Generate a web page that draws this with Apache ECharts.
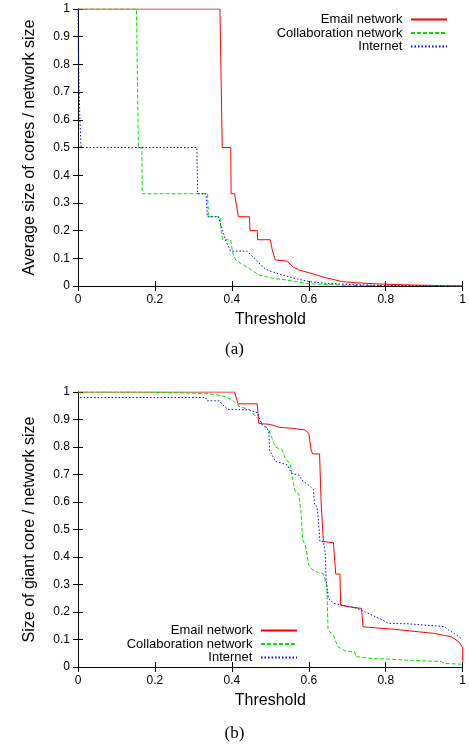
<!DOCTYPE html>
<html>
<head>
<meta charset="utf-8">
<script src="https://cdn.jsdelivr.net/npm/echarts@6/dist/echarts.min.js"></script>
<style>
  html, body { margin: 0; padding: 0; background: #fff; }
  #chart { width: 469px; height: 749px; }
</style>
</head>
<body>
<div id="chart"></div>
<script>
// (a) average size of cores / network size
const emailCores = [[0,1],[0.369,1],[0.375,0.5],[0.397,0.5],[0.398,0.333],[0.407,0.333],[0.417,0.25],[0.446,0.25],[0.447,0.2],[0.466,0.2],[0.467,0.167],[0.5,0.167],[0.505,0.13],[0.513,0.094],[0.543,0.09],[0.56,0.068],[0.574,0.058],[0.6,0.048],[0.62,0.04],[0.643,0.03],[0.66,0.025],[0.685,0.016],[0.72,0.012],[0.772,0.008],[0.858,0.004],[0.95,0.001],[1,0]];
const collabCores = [[0,1],[0.152,1],[0.157,0.5],[0.166,0.5],[0.167,0.333],[0.337,0.333],[0.339,0.25],[0.369,0.25],[0.372,0.2],[0.376,0.167],[0.397,0.167],[0.402,0.12],[0.41,0.094],[0.425,0.08],[0.444,0.064],[0.47,0.04],[0.505,0.028],[0.54,0.022],[0.574,0.014],[0.6,0.008],[0.685,0.003],[0.8,0.001],[1,0]];
const internetCores = [[0,1],[0.001,0.85],[0.003,0.7],[0.005,0.6],[0.008,0.5],[0.309,0.5],[0.311,0.333],[0.333,0.333],[0.336,0.25],[0.365,0.25],[0.376,0.2],[0.385,0.16],[0.397,0.126],[0.44,0.126],[0.462,0.094],[0.488,0.06],[0.53,0.04],[0.574,0.024],[0.6,0.016],[0.643,0.01],[0.729,0.004],[0.8,0.002],[1,0]];

// (b) size of giant core / network size
const emailGiant = [[0,1],[0.407,1],[0.416,0.957],[0.466,0.957],[0.47,0.886],[0.5,0.882],[0.522,0.872],[0.556,0.868],[0.59,0.862],[0.6,0.85],[0.606,0.789],[0.61,0.775],[0.628,0.775],[0.632,0.6],[0.636,0.5],[0.638,0.456],[0.664,0.452],[0.67,0.338],[0.681,0.338],[0.683,0.225],[0.703,0.219],[0.737,0.213],[0.741,0.146],[0.823,0.137],[0.927,0.122],[0.97,0.11],[0.99,0.092],[1,0.07],[1,0.02]];
const collabGiant = [[0,1],[0.164,1],[0.166,0.995],[0.332,0.995],[0.335,0.99],[0.358,0.99],[0.36,0.983],[0.384,0.983],[0.401,0.971],[0.419,0.947],[0.444,0.937],[0.47,0.9],[0.496,0.862],[0.513,0.8],[0.53,0.79],[0.539,0.759],[0.552,0.735],[0.556,0.698],[0.565,0.637],[0.574,0.63],[0.58,0.559],[0.584,0.462],[0.591,0.444],[0.6,0.371],[0.608,0.355],[0.625,0.343],[0.638,0.339],[0.647,0.292],[0.65,0.135],[0.664,0.116],[0.675,0.074],[0.694,0.059],[0.72,0.054],[0.722,0.038],[0.755,0.032],[0.858,0.025],[0.944,0.02],[0.953,0.013],[1,0.01]];
const internetGiant = [[0,0.99],[0.005,0.98],[0.332,0.98],[0.335,0.968],[0.367,0.968],[0.375,0.955],[0.389,0.937],[0.444,0.935],[0.466,0.925],[0.47,0.91],[0.479,0.88],[0.492,0.865],[0.496,0.856],[0.498,0.789],[0.509,0.759],[0.513,0.747],[0.53,0.741],[0.544,0.735],[0.556,0.704],[0.574,0.698],[0.582,0.68],[0.604,0.656],[0.612,0.645],[0.615,0.589],[0.621,0.585],[0.625,0.535],[0.629,0.456],[0.638,0.456],[0.643,0.413],[0.645,0.316],[0.647,0.292],[0.651,0.25],[0.664,0.232],[0.686,0.225],[0.711,0.219],[0.737,0.207],[0.763,0.189],[0.789,0.173],[0.806,0.159],[0.858,0.157],[0.953,0.147],[0.961,0.137],[0.978,0.122],[1,0.1]];

const seriesNames = ['Email network', 'Collaboration network', 'Internet'];

const font = 'Liberation Sans, Arial, Helvetica, sans-serif';
const colors = ['#ff0000', '#00e000', '#0000ff'];
const dashes = ['solid', [4, 2], [1.5, 2]];

const myChart = echarts.init(document.getElementById('chart'));

const axisLine = { show: true, lineStyle: { color: '#000', width: 1 } };
const tick = { show: true, inside: true, length: 5, lineStyle: { color: '#000' } };

const xAxisFor = (gridIndex, position, name) => ({
  type: 'value',
  gridIndex,
  position,
  min: 0,
  max: 1,
  interval: 0.2,
  axisLine,
  axisTick: tick,
  splitLine: { show: false },
  axisLabel: { show: position === 'bottom', color: '#000', fontSize: 12, fontFamily: font, margin: 8 },
  name: position === 'bottom' ? name : '',
  nameLocation: 'middle',
  nameGap: 26,
  nameTextStyle: { color: '#000', fontSize: 16, fontFamily: font },
});

const yAxisFor = (gridIndex, position, name) => ({
  type: 'value',
  gridIndex,
  position,
  min: 0,
  max: 1,
  interval: 0.1,
  axisLine,
  axisTick: tick,
  splitLine: { show: false },
  axisLabel: { show: position === 'left', color: '#000', fontSize: 12, fontFamily: font, margin: 8 },
  name: position === 'left' ? name : '',
  nameLocation: 'middle',
  nameGap: 40,
  nameTextStyle: { color: '#000', fontSize: 16, fontFamily: font },
});

const lineSeries = (name, i, data, axisIndex) => ({
  name,
  type: 'line',
  data,
  xAxisIndex: axisIndex,
  yAxisIndex: axisIndex,
  symbol: 'none',
  showSymbol: false,
  color: colors[i],
  lineStyle: { color: colors[i], width: 1, type: dashes[i] },
});

const legendFor = (name, right, centerY) => ({
  data: [name],
  right,
  top: centerY - 7,
  padding: 0,
  align: 'right',
  itemWidth: 36,
  itemHeight: 14,
  itemStyle: { opacity: 0 },
  formatter: n => n + ' ',
  textStyle: { color: '#000', fontSize: 13, fontFamily: font },
});

const option = {
  animation: false,
  backgroundColor: '#fff',
  title: [
    { text: '(a)', left: 'center', top: 341, padding: 0, textStyle: { fontFamily: 'Liberation Serif, Times New Roman, serif', fontWeight: 'normal', fontSize: 17, color: '#000' } },
    { text: '(b)', left: 'center', top: 725, padding: 0, textStyle: { fontFamily: 'Liberation Serif, Times New Roman, serif', fontWeight: 'normal', fontSize: 17, color: '#000' } },
  ],
  legend: [
    legendFor(seriesNames[0], 21, 20),
    legendFor(seriesNames[1], 21, 33.5),
    legendFor(seriesNames[2], 21, 47),
    legendFor(seriesNames[0], 171, 631),
    legendFor(seriesNames[1], 171, 644.5),
    legendFor(seriesNames[2], 171, 658),
  ],
  grid: [
    { left: 78, top: 9, width: 387, height: 277 },
    { left: 78, top: 392, width: 387, height: 275 },
  ],
  xAxis: [
    xAxisFor(0, 'bottom', 'Threshold'),
    xAxisFor(0, 'top', ''),
    xAxisFor(1, 'bottom', 'Threshold'),
    xAxisFor(1, 'top', ''),
  ],
  yAxis: [
    yAxisFor(0, 'left', 'Average size of cores / network size'),
    yAxisFor(0, 'right', ''),
    yAxisFor(1, 'left', 'Size of giant core / network size'),
    yAxisFor(1, 'right', ''),
  ],
  series: [
    lineSeries(seriesNames[0], 0, emailCores, 0),
    lineSeries(seriesNames[1], 1, collabCores, 0),
    lineSeries(seriesNames[2], 2, internetCores, 0),
    lineSeries(seriesNames[0], 0, emailGiant, 2),
    lineSeries(seriesNames[1], 1, collabGiant, 2),
    lineSeries(seriesNames[2], 2, internetGiant, 2),
  ],
};

myChart.setOption(option);
</script>
</body>
</html>
